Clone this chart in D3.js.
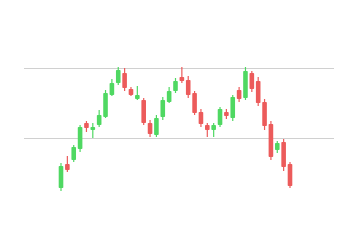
<!DOCTYPE html>
<html><head><meta charset="utf-8">
<script src="https://cdn.jsdelivr.net/npm/d3@7"></script>
<style>html,body{margin:0;padding:0;background:#fff;}svg{display:block;}</style>
</head><body>
<svg id="c" width="360" height="240"></svg>
<script>
const days = d3.range(1, 38);
const opens  = [80,104,108,119,145,138,143,151,173,185,195,179,169,168,145,133,151,166,177,191,188,175,156,143,138,143,156,150,178,170,195,187,166,144,118,126,104];
const closes = [102,98,121,141,140,141,153,175,185,198,180,173,173,145,134,150,168,177,187,187,173,155,144,138,143,159,152,171,169,197,179,165,142,111,125,101,82];
const highs  = [105,112,123,143,147,145,158,178,189,201,200,181,182,170,148,153,171,181,190,201,192,177,159,145,145,161,159,173,181,201,197,191,169,147,127,129,106];
const lows   = [77,96,106,116,136,130,141,150,172,183,177,172,168,143,131,131,148,165,175,185,170,153,141,131,131,141,149,147,166,168,176,162,138,108,115,97,80];
const levels = [200, 130];

const svg = d3.select("#c");
const x = d3.scaleLinear().domain([1, 37]).range([61, 290]);
const y = d3.scaleLinear().domain([28, 268]).range([240, 0]);
const green = "#4fd862", red = "#ec5b5b";

svg.selectAll("line.lvl").data(levels).join("line")
  .attr("x1", 24).attr("x2", 334)
  .attr("y1", d => y(d) + 0.5).attr("y2", d => y(d) + 0.5)
  .attr("stroke", "#d0d0d0").attr("stroke-width", 1.2);

const data = days.map((d, i) => ({d, o: opens[i], c: closes[i], h: highs[i], l: lows[i]}));
const g = svg.selectAll("g.candle").data(data).join("g");
g.append("line")
  .attr("x1", d => x(d.d)).attr("x2", d => x(d.d))
  .attr("y1", d => y(d.h)).attr("y2", d => y(d.l))
  .attr("stroke", d => d.c >= d.o ? green : red).attr("stroke-width", 1.2);
g.append("rect")
  .attr("x", d => x(d.d) - 2.3).attr("width", 4.6)
  .attr("y", d => y(Math.max(d.o, d.c)))
  .attr("height", d => Math.max(1, Math.abs(y(d.o) - y(d.c))))
  .attr("rx", 0.8)
  .attr("fill", d => d.c >= d.o ? green : red);
</script>
</body></html>
